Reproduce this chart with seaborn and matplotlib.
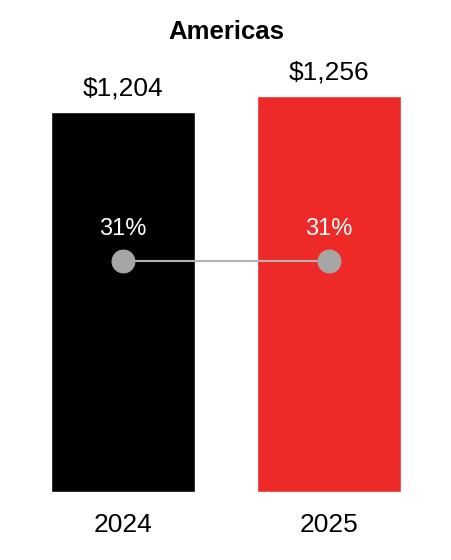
import numpy as np
import pandas as pd
import matplotlib
matplotlib.use("Agg")
import matplotlib.pyplot as plt
import seaborn as sns

# chart data
years = ["2024", "2025"]
revenue = [1204, 1256]
revenue_labels = ["$1,204", "$1,256"]
margin_pct = [31, 31]
bar_colors = ["#000000", "#EE2A29"]

df = pd.DataFrame({"year": years, "revenue": revenue, "margin": margin_pct})

sns.set_theme(style="white")
plt.rcParams["font.family"] = ["Liberation Sans", "DejaVu Sans"]

W, H = 452, 560
fig = plt.figure(figsize=(W / 100, H / 100), dpi=100)

# axes placed so bars land where the reference has them
bottom_px = 68
top_px = 40
ax = fig.add_axes([0, bottom_px / H, 1, (H - bottom_px - top_px) / H])

sns.barplot(data=df, x="year", y="revenue", hue="year", palette=bar_colors,
            width=0.7, saturation=1, legend=False, ax=ax)

ax.set_xlim(-123 / 206, (W - 123) / 206)
plot_h = H - bottom_px - top_px
ax.set_ylim(0, 1256 * plot_h / 396)

for i, lab in enumerate(revenue_labels):
    ax.annotate(lab, (i, revenue[i]), xytext=(0, 12), textcoords="offset points",
                ha="center", va="baseline", fontsize=19, color="#000000")

ax.set_xlabel("")
ax.set_ylabel("")
ax.set_yticks([])
ax.tick_params(axis="x", length=0, pad=15, labelsize=19, labelcolor="#000000")
sns.despine(ax=ax, left=True, bottom=True)

# margin line on a second scale
ax2 = ax.twinx()
sns.lineplot(x=[0, 1], y=margin_pct, ax=ax2, color="#B3B3B3", linewidth=1.5,
             marker="o", markersize=16.5, markerfacecolor="#A6A6A6",
             markeredgecolor="#A6A6A6")
ax2.set_ylim(0, 31 * plot_h / 231)
ax2.set_yticks([])
ax2.set_ylabel("")
sns.despine(ax=ax2, left=True, bottom=True, right=True)
for i, p in enumerate(margin_pct):
    ax2.annotate(f"{p}%", (i, p), xytext=(0, 18.5), textcoords="offset points",
                 ha="center", va="baseline", fontsize=17, color="white")

fig.text(0.5, 1 - 39 / H, "Americas", ha="center", va="baseline",
         fontsize=18.5, fontweight="bold", color="#000000")

fig.savefig("out.png", dpi=100)
